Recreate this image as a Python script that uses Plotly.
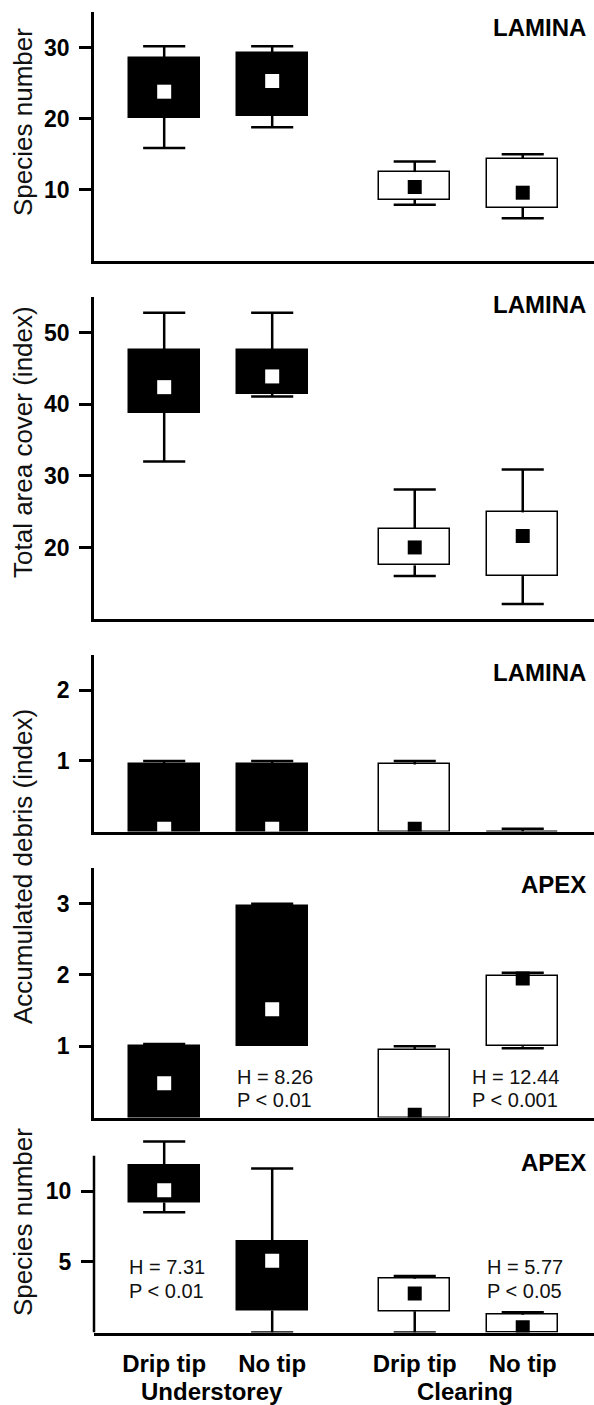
import plotly.graph_objects as go

FIG_W, FIG_H = 594, 1405
ML = 94
FONT = "Liberation Sans, Arial, Helvetica, sans-serif"

# ---------------- data ----------------
categories = ["Drip tip", "No tip", "Drip tip", "No tip"]
habitats = ["Understorey", "Clearing"]
positions = [1.0, 2.0, 3.32, 4.32]
habitat_centers = [1.44, 3.79]
box_colors = ["black", "black", "white", "white"]
marker_colors = ["white", "white", "black", "black"]

# Panel 1: species number, lamina
sp_lam_low = [15.9, 18.8, 7.9, 6.0]
sp_lam_q1 = [20.1, 20.4, 8.6, 7.5]
sp_lam_q3 = [28.5, 29.2, 12.5, 14.4]
sp_lam_high = [30.2, 30.2, 14.0, 15.0]
sp_lam_mid = [23.8, 25.3, 10.4, 9.6]

# Panel 2: total area cover, lamina
cov_lam_low = [32.0, 41.1, 16.0, 12.1]
cov_lam_q1 = [38.8, 41.5, 17.5, 16.0]
cov_lam_q3 = [47.6, 47.6, 22.6, 24.9]
cov_lam_high = [52.8, 52.8, 28.1, 30.9]
cov_lam_mid = [42.4, 43.9, 20.0, 21.6]

# Panel 3: accumulated debris, lamina
deb_lam_low = [0.0, 0.0, 0.0, 0.0]
deb_lam_q1 = [0.0, 0.0, 0.0, 0.0]
deb_lam_q3 = [0.95, 0.95, 0.95, 0.0]
deb_lam_high = [1.0, 1.0, 1.0, 0.04]
deb_lam_mid = [0.04, 0.04, 0.04, None]

# Panel 4: accumulated debris, apex
deb_apx_low = [0.0, 1.0, 0.0, 0.97]
deb_apx_q1 = [0.0, 1.0, 0.0, 1.0]
deb_apx_q3 = [1.0, 2.97, 0.95, 1.99]
deb_apx_high = [1.03, 3.0, 1.0, 2.03]
deb_apx_mid = [0.48, 1.52, 0.04, 1.95]

# Panel 5: species number, apex
sp_apx_low = [8.5, 0.0, 0.0, 0.0]
sp_apx_q1 = [9.2, 1.55, 1.5, 0.0]
sp_apx_q3 = [11.8, 6.4, 3.8, 1.25]
sp_apx_high = [13.5, 11.6, 4.0, 1.43]
sp_apx_mid = [10.05, 5.07, 2.75, 0.38]

panel_titles = ["LAMINA", "LAMINA", "LAMINA", "APEX", "APEX"]
y_titles = ["Species number", "Total area cover (index)",
            "Accumulated debris (index)", "Species number"]
stats_apex_debris = [["H = 8.26", "P < 0.01"], ["H = 12.44", "P < 0.001"]]
stats_apex_species = [["H = 7.31", "P < 0.01"], ["H = 5.77", "P < 0.05"]]

# ---------------- layout geometry (pixels) ----------------
panels = [
    dict(data=(sp_lam_low, sp_lam_q1, sp_lam_q3, sp_lam_high, sp_lam_mid),
         rng=[0, 35], tv=[10, 20, 30], px=(12, 261)),
    dict(data=(cov_lam_low, cov_lam_q1, cov_lam_q3, cov_lam_high, cov_lam_mid),
         rng=[10, 55], tv=[20, 30, 40, 50], px=(297, 619)),
    dict(data=(deb_lam_low, deb_lam_q1, deb_lam_q3, deb_lam_high, deb_lam_mid),
         rng=[0, 2.5], tv=[1, 2], px=(655, 831.5)),
    dict(data=(deb_apx_low, deb_apx_q1, deb_apx_q3, deb_apx_high, deb_apx_mid),
         rng=[0, 3.5], tv=[1, 2, 3], px=(868, 1117.5)),
    dict(data=(sp_apx_low, sp_apx_q1, sp_apx_q3, sp_apx_high, sp_apx_mid),
         rng=[0, 14], tv=[5, 10], px=(1134.5, 1332.5)),
]
axis_top_p5 = 12.5

def py(p):
    return 1 - p / FIG_H

def pxx(p):
    return (p - ML) / (FIG_W - ML)

CAP = 0.195

def whisker_xy(pos, lo, q1, q3, hi):
    xs, ys = [], []
    for p, l, a, b, h in zip(pos, lo, q1, q3, hi):
        if h > b:
            xs += [p, p, None, p - CAP, p + CAP, None]
            ys += [b, h, None, h, h, None]
        if l < a:
            xs += [p, p, None, p - CAP, p + CAP, None]
            ys += [a, l, None, l, l, None]
    return xs, ys

fig = go.Figure()
layout = dict()
for k, pnl in enumerate(panels, start=1):
    xa = "x" if k == 1 else f"x{k}"
    ya = "y" if k == 1 else f"y{k}"
    lo, q1, q3, hi, mid = pnl["data"]
    wx, wy = whisker_xy(positions, lo, q1, q3, hi)
    fig.add_trace(go.Scatter(x=wx, y=wy, mode="lines", xaxis=xa, yaxis=ya,
                             line=dict(color="black", width=2.5),
                             hoverinfo="skip"))
    fig.add_trace(go.Bar(x=positions, y=[b - a for a, b in zip(q1, q3)],
                         base=q1, width=0.66, xaxis=xa, yaxis=ya,
                         marker=dict(color=box_colors,
                                     line=dict(color="black", width=1.5))))
    fig.add_trace(go.Scatter(x=positions, y=mid, mode="markers",
                             xaxis=xa, yaxis=ya,
                             marker=dict(symbol="square", size=14,
                                         color=marker_colors,
                                         line=dict(width=0))))
    top, bot = pnl["px"]
    layout["xaxis" if k == 1 else f"xaxis{k}"] = dict(
        domain=[0, 1], range=[0.35, 4.98], anchor=ya,
        showline=True, linewidth=2.5, linecolor="black",
        ticks="", showgrid=False, zeroline=False,
        showticklabels=(k == 5), tickvals=positions, ticktext=categories,
        tickfont=dict(family=FONT, size=24, color="black", weight="bold"),
        ticklabelstandoff=8, automargin=False)
    layout["yaxis" if k == 1 else f"yaxis{k}"] = dict(
        domain=[py(bot), py(top)], range=pnl["rng"], anchor=xa,
        showline=(k != 5), linewidth=2.5, linecolor="black",
        ticks="outside", ticklen=12, tickwidth=2.5, tickcolor="black",
        tickvals=pnl["tv"], showgrid=False, zeroline=False,
        tickfont=dict(family=FONT, size=23, color="black", weight="bold"),
        ticklabelstandoff=5, automargin=False)

annotations = []
title_y = [28, 304, 672, 884, 1162]
for t, yy in zip(panel_titles, title_y):
    annotations.append(dict(text=t, xref="paper", yref="paper", x=pxx(588),
                            y=py(yy), xanchor="right", yanchor="middle",
                            showarrow=False,
                            font=dict(family=FONT, size=24, color="black",
                                      weight="bold")))

ytitle_y = [122, 442, 867, 1222]
for t, yy in zip(y_titles, ytitle_y):
    annotations.append(dict(text=t, xref="paper", yref="paper", x=pxx(23),
                            y=py(yy), xanchor="center", yanchor="middle",
                            textangle=-90, showarrow=False,
                            font=dict(family=FONT, size=26, color="#111")))

def add_stats(block, xs_px, ys_px):
    for lines, xp in zip(block, xs_px):
        for line, yp in zip(lines, ys_px):
            annotations.append(dict(text=line, xref="paper", yref="paper",
                                    x=pxx(xp), y=py(yp), xanchor="left",
                                    yanchor="middle", showarrow=False,
                                    font=dict(family=FONT, size=20,
                                              color="#111")))

add_stats(stats_apex_debris, [235, 470], [1077, 1100])
add_stats(stats_apex_species, [127, 485], [1267, 1291])

for h, xc in zip(habitats, habitat_centers):
    annotations.append(dict(text=h, xref="x5", yref="paper", x=xc,
                            y=py(1391), xanchor="center", yanchor="middle",
                            showarrow=False,
                            font=dict(family=FONT, size=24, color="black",
                                      weight="bold")))

shapes = [dict(type="line", xref="x5 domain", yref="y5", x0=0, x1=0,
               y0=0, y1=axis_top_p5, line=dict(color="black", width=2.5))]

fig.update_layout(
    width=FIG_W, height=FIG_H,
    margin=dict(l=ML, r=0, t=0, b=0),
    paper_bgcolor="white", plot_bgcolor="white",
    showlegend=False, bargap=0,
    annotations=annotations, shapes=shapes,
    **layout,
)
fig.write_html(
    "out.html",
    config={"displayModeBar": False},
    post_script="document.body.style.margin='0';"
                "document.body.style.padding='0';"
                "document.body.style.overflow='hidden';",
)
